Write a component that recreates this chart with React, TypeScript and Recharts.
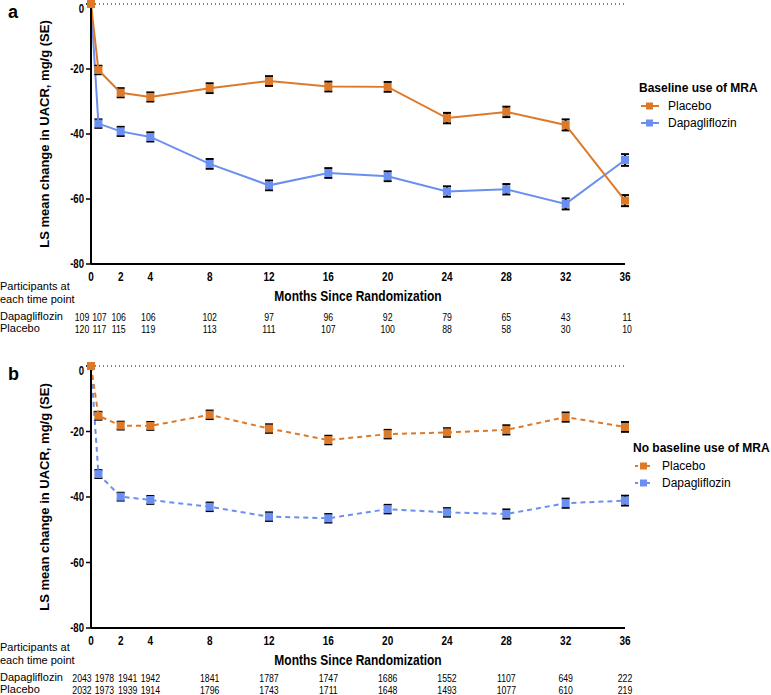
import React from 'react';
import { LineChart, Line, XAxis, YAxis, ErrorBar, ReferenceLine, Legend } from 'recharts';

const months = [0, 0.5, 2, 4, 8, 12, 16, 20, 24, 28, 32, 36];
const monthLabels = [0, 2, 4, 8, 12, 16, 20, 24, 28, 32, 36];
const yTicks = [-80, -60, -40, -20, 0];

// a: baseline use of MRA
const mraPlacebo = [0, -20.3, -27.3, -28.6, -25.9, -23.7, -25.4, -25.5, -35.1, -33.2, -37.2, -60.5];
const mraPlaceboSe = [0, 1.3, 1.4, 1.4, 1.5, 1.5, 1.5, 1.5, 1.6, 1.6, 1.7, 1.7];
const mraDapa = [0, -36.8, -39.2, -40.9, -49.2, -55.8, -52.0, -53.0, -57.7, -57.0, -61.5, -48.0];
const mraDapaSe = [0, 1.3, 1.4, 1.4, 1.5, 1.5, 1.5, 1.5, 1.6, 1.6, 1.7, 1.8];
const mraDapaN = [109, 107, 106, 106, 102, 97, 96, 92, 79, 65, 43, 11];
const mraPlaceboN = [120, 117, 115, 119, 113, 111, 107, 100, 88, 58, 30, 10];

// b: no baseline use of MRA
const noMraPlacebo = [0, -15.2, -18.2, -18.3, -14.9, -19.1, -22.6, -20.8, -20.3, -19.5, -15.6, -18.6];
const noMraPlaceboSe = [0, 1.2, 1.2, 1.2, 1.3, 1.3, 1.3, 1.3, 1.3, 1.4, 1.4, 1.5];
const noMraDapa = [0, -33.0, -39.9, -40.9, -43.0, -46.0, -46.5, -43.7, -44.7, -45.2, -41.9, -41.1];
const noMraDapaSe = [0, 1.2, 1.2, 1.2, 1.3, 1.3, 1.3, 1.3, 1.3, 1.4, 1.4, 1.5];
const noMraDapaN = [2043, 1978, 1941, 1942, 1841, 1787, 1747, 1686, 1552, 1107, 649, 222];
const noMraPlaceboN = [2032, 1973, 1939, 1914, 1796, 1743, 1711, 1648, 1493, 1077, 610, 219];

const ORANGE = '#DC7A2A';
const BLUE = '#6B8FF0';
const SANS = "'Liberation Sans', Arial, sans-serif";
const SQUEEZE = 0.8; // the original uses a condensed face for numbers and axis text

// count labels get pushed apart near month 0
const nudgeA = [-9, 1, -2, -2, 0, 0, 0, 0, 0, 0, 0, 2];
const nudgeB = [-9, 6, 7, 0, 0, 0, 0, 0, 0, 0, 0, 0];

const buildRows = (plac: number[], placSe: number[], dapa: number[], dapaSe: number[]) =>
  months.map((m, i) => ({ month: m, placebo: plac[i], placeboSe: placSe[i], dapa: dapa[i], dapaSe: dapaSe[i] }));

const mraRows = buildRows(mraPlacebo, mraPlaceboSe, mraDapa, mraDapaSe);
const noMraRows = buildRows(noMraPlacebo, noMraPlaceboSe, noMraDapa, noMraDapaSe);

// condensed svg text
const NText = ({ x, y, size, bold, squeeze = SQUEEZE, anchor = 'middle', children }: any) => (
  <text
    transform={`translate(${x} ${y}) scale(${squeeze} 1)`}
    textAnchor={anchor}
    fontFamily={SANS}
    fontWeight={bold ? 'bold' : 'normal'}
    fontSize={size}
    fill="#000"
  >
    {children}
  </text>
);

const squareDot = (color: string) => (props: any) => {
  const { cx, cy, index } = props;
  if (cx == null || cy == null) return <g key={index} />;
  return <rect key={index} x={cx - 4} y={cy - 4} width={8} height={8} fill={color} />;
};

const makeMonthTick = (dapaN: number[], placeboN: number[], nudge: number[], rowShift: number) => (props: any) => {
  const { x, y, payload } = props;
  const i = months.indexOf(payload.value);
  return (
    <g>
      {monthLabels.includes(payload.value) && (
        <NText x={x} y={y + 17} size={12.5} bold>
          {payload.value}
        </NText>
      )}
      <NText x={x + nudge[i]} y={y + 57 + rowShift} size={11.5} squeeze={0.76}>
        {dapaN[i]}
      </NText>
      <NText x={x + nudge[i]} y={y + 69 + rowShift} size={11.5} squeeze={0.76}>
        {placeboN[i]}
      </NText>
    </g>
  );
};

const ValueTick = (props: any) => {
  const { x, y, payload } = props;
  return (
    <NText x={x} y={y + 4} size={12} bold anchor="end">
      {payload.value}
    </NText>
  );
};

const xTitle = (props: any) => {
  const { viewBox } = props;
  return (
    <NText x={viewBox.x + viewBox.width / 2} y={viewBox.y + 37} size={15} bold>
      Months Since Randomization
    </NText>
  );
};

const LegendIcon = ({ color, dashed }: { color: string; dashed: boolean }) => (
  <svg width={20} height={10} style={{ display: 'block' }}>
    <line x1={0} y1={5} x2={18} y2={5} stroke={color} strokeWidth={2} strokeDasharray={dashed ? '3 3' : undefined} />
    <rect x={5} y={1.5} width={7} height={7} fill={color} />
  </svg>
);

const makeLegend = (title: string, dashed: boolean) => () => (
  <div style={{ fontFamily: SANS, color: '#000', whiteSpace: 'nowrap' }}>
    <div style={{ fontWeight: 'bold', fontSize: 12, lineHeight: '16px', marginBottom: 1 }}>{title}</div>
    {[
      { name: 'Placebo', color: ORANGE },
      { name: 'Dapagliflozin', color: BLUE },
    ].map((item) => (
      <div key={item.name} style={{ display: 'flex', alignItems: 'center', height: 17, fontSize: 12 }}>
        <div style={{ width: 27, paddingLeft: 2 }}>
          <LegendIcon color={item.color} dashed={dashed} />
        </div>
        <span>{item.name}</span>
      </div>
    ))}
  </div>
);

function Panel({ rows, dashed, dapaN, placeboN, nudge, rowShift, height, legendTitle, legendTop, legendLeft }: any) {
  const dash = dashed ? '5 4' : undefined;
  return (
    <LineChart width={771} height={height} data={rows} margin={{ top: 4, right: 146, bottom: 6, left: 51 }}>
      <XAxis
        dataKey="month"
        type="number"
        domain={[0, 36]}
        ticks={months}
        interval={0}
        tickLine={false}
        tickSize={0}
        tickMargin={0}
        height={70}
        axisLine={{ stroke: '#000', strokeWidth: 2 }}
        tick={makeMonthTick(dapaN, placeboN, nudge, rowShift)}
        label={xTitle}
      />
      <YAxis
        type="number"
        domain={[-80, 0]}
        ticks={yTicks}
        width={40}
        tickSize={5}
        tickMargin={2}
        tickLine={{ stroke: '#000', strokeWidth: 1.5 }}
        axisLine={{ stroke: '#000', strokeWidth: 2 }}
        tick={ValueTick}
      />
      <ReferenceLine y={0} stroke="#000" strokeWidth={1.2} strokeDasharray="1 3" />
      <Legend
        layout="vertical"
        align="center"
        verticalAlign="middle"
        content={makeLegend(legendTitle, dashed)}
        wrapperStyle={{ left: legendLeft, top: legendTop, width: 771 - legendLeft, height: 'auto' }}
      />
      <Line
        dataKey="dapa"
        name="Dapagliflozin"
        type="linear"
        stroke={BLUE}
        strokeWidth={2}
        strokeDasharray={dash}
        dot={squareDot(BLUE)}
        activeDot={false}
        isAnimationActive={false}
      >
        <ErrorBar dataKey="dapaSe" width={4} stroke="#000" strokeWidth={2} direction="y" />
      </Line>
      <Line
        dataKey="placebo"
        name="Placebo"
        type="linear"
        stroke={ORANGE}
        strokeWidth={2}
        strokeDasharray={dash}
        dot={squareDot(ORANGE)}
        activeDot={false}
        isAnimationActive={false}
      >
        <ErrorBar dataKey="placeboSe" width={4} stroke="#000" strokeWidth={2} direction="y" />
      </Line>
    </LineChart>
  );
}

const yTitleStyle = (centerY: number): React.CSSProperties => ({
  position: 'absolute',
  left: 44,
  top: centerY,
  transform: 'translate(-50%, -50%) rotate(-90deg)',
  whiteSpace: 'nowrap',
  fontFamily: SANS,
  fontWeight: 'bold',
  fontSize: 13,
  color: '#000',
});

const sideLabelStyle = (top: number): React.CSSProperties => ({
  position: 'absolute',
  left: 0,
  top,
  fontFamily: SANS,
  fontSize: 11,
  color: '#000',
});

export default function App() {
  return (
    <div style={{ position: 'absolute', left: 0, top: 0, width: 771, height: 695, background: '#fff', overflow: 'hidden' }}>
      <div style={{ position: 'absolute', left: 0, top: 0 }}>
        <Panel
          rows={mraRows}
          dashed={false}
          dapaN={mraDapaN}
          placeboN={mraPlaceboN}
          nudge={nudgeA}
          rowShift={0}
          height={340}
          legendTitle="Baseline use of MRA"
          legendLeft={639}
          legendTop={80}
        />
      </div>
      <div style={{ position: 'absolute', left: 0, top: 362 }}>
        <Panel
          rows={noMraRows}
          dashed={true}
          dapaN={noMraDapaN}
          placeboN={noMraPlaceboN}
          nudge={nudgeB}
          rowShift={-3}
          height={342}
          legendTitle="No baseline use of MRA"
          legendLeft={633}
          legendTop={78}
        />
      </div>

      <div style={{ position: 'absolute', left: 8, top: 2, fontFamily: SANS, fontWeight: 'bold', fontSize: 18 }}>a</div>
      <div style={{ position: 'absolute', left: 8, top: 364, fontFamily: SANS, fontWeight: 'bold', fontSize: 18 }}>b</div>

      <div style={yTitleStyle(134)}>LS mean change in UACR, mg/g (SE)</div>
      <div style={yTitleStyle(497)}>LS mean change in UACR, mg/g (SE)</div>

      <div style={{ ...sideLabelStyle(280), lineHeight: '13px' }}>
        Participants at
        <br />
        each time point
      </div>
      <div style={{ ...sideLabelStyle(310), lineHeight: '12px' }}>
        Dapagliflozin
        <br />
        Placebo
      </div>
      <div style={{ ...sideLabelStyle(641), lineHeight: '13px' }}>
        Participants at
        <br />
        each time point
      </div>
      <div style={{ ...sideLabelStyle(671), lineHeight: '12px' }}>
        Dapagliflozin
        <br />
        Placebo
      </div>
    </div>
  );
}
